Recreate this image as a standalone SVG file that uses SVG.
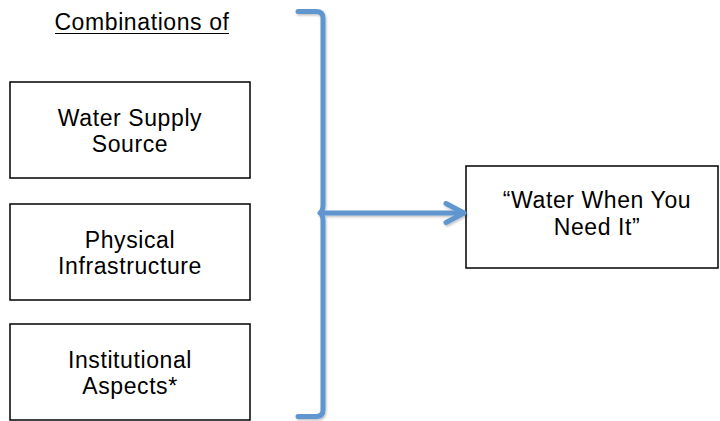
<svg xmlns="http://www.w3.org/2000/svg" width="720" height="421" viewBox="0 0 720 421">
  <style>
    .box { fill: #ffffff; stroke: #000000; stroke-width: 1.5; }
    .label { font-family: "Liberation Sans", Arial, sans-serif; font-size: 23px; letter-spacing: 0.6px; fill: #000000; text-anchor: middle; }
    .blue { fill: none; stroke: #5f96cf; stroke-width: 5; stroke-linecap: round; stroke-linejoin: round; }
  </style>
  <defs>
    <filter id="soft" x="-10%" y="-10%" width="130%" height="130%">
      <feDropShadow dx="1" dy="1.5" stdDeviation="1.2" flood-color="#000000" flood-opacity="0.25"/>
    </filter>
  </defs>

  <rect width="720" height="421" fill="#ffffff"/>

  <g id="heading">
    <text class="label" x="142" y="30">Combinations of</text>
    <line x1="55" y1="33.5" x2="229" y2="33.5" stroke="#000000" stroke-width="1.2"/>
  </g>

  <g id="water-supply-source">
    <rect class="box" x="10" y="82" width="240" height="96"/>
    <text class="label" x="130" y="126">Water Supply</text>
    <text class="label" x="130" y="152">Source</text>
  </g>

  <g id="physical-infrastructure">
    <rect class="box" x="10" y="204" width="240" height="96"/>
    <text class="label" x="130" y="248">Physical</text>
    <text class="label" x="130" y="274">Infrastructure</text>
  </g>

  <g id="institutional-aspects">
    <rect class="box" x="10" y="324" width="240" height="96"/>
    <text class="label" x="130" y="368">Institutional</text>
    <text class="label" x="130" y="394">Aspects*</text>
  </g>

  <g id="water-when-you-need-it">
    <rect class="box" x="466" y="166" width="252" height="102"/>
    <text class="label" x="597" y="208">“Water When You</text>
    <text class="label" x="597" y="235">Need It”</text>
  </g>

  <g id="connectors" filter="url(#soft)">
    <!-- right-facing brace grouping the three inputs -->
    <path class="blue" d="M298,11.5 L316,11.5 Q323,11.5 323,18 L323,205 Q323,211 320,213 Q323,215 323,221 L323,410 Q323,416.5 316,416.5 L298,416.5"/>
    <!-- arrow from brace to outcome -->
    <path class="blue" d="M321,213 L463,213"/>
    <path class="blue" d="M446,203.5 L464,213 L446,222.5"/>
  </g>
</svg>
